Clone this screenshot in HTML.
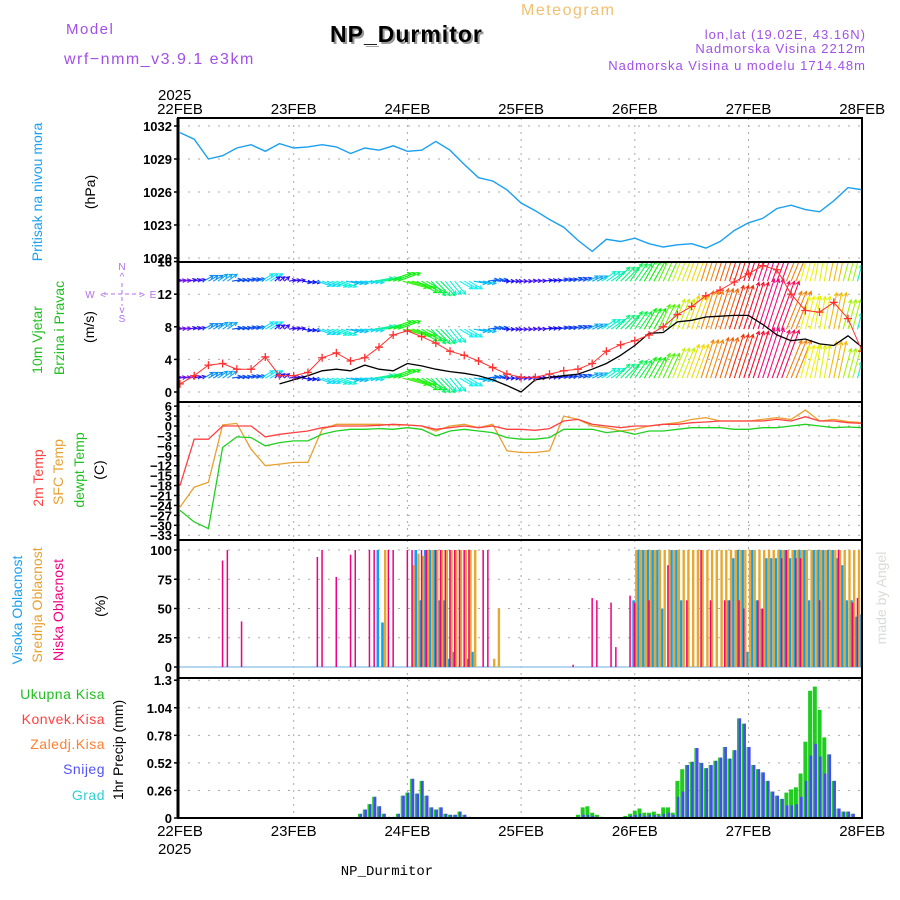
<!DOCTYPE html>
<html><head><meta charset="utf-8"><style>
html,body{margin:0;padding:0;background:#fff}
svg{display:block;font-family:"Liberation Sans","DejaVu Sans",sans-serif}
</style></head><body>
<svg id="chart" width="900" height="900" viewBox="0 0 900 900" xmlns="http://www.w3.org/2000/svg">
<defs>
<clipPath id="c1"><rect x="178" y="118" width="684" height="144"/></clipPath>
<clipPath id="c2"><rect x="178" y="262" width="684" height="140"/></clipPath>
<clipPath id="c3"><rect x="178" y="402" width="684" height="138"/></clipPath>
<clipPath id="c4"><rect x="178" y="540" width="684" height="138"/></clipPath>
<clipPath id="c5"><rect x="178" y="678" width="684" height="140"/></clipPath>
</defs>
<text x="66" y="34" font-size="15" fill="#a050e8" letter-spacing="1.5">Model</text>
<text x="64" y="64" font-size="16" fill="#a050e8" letter-spacing="1.5">wrf−nmm_v3.9.1 e3km</text>
<text x="521" y="15" font-size="16" fill="#f0c070" letter-spacing="1.5">Meteogram</text>
<text x="332" y="44" font-size="23" font-weight="bold" fill="#999" letter-spacing="1">NP_Durmitor</text>
<text x="330" y="42" font-size="23" font-weight="bold" fill="#000" letter-spacing="1">NP_Durmitor</text>
<text x="866" y="39" font-size="13" fill="#a050e8" text-anchor="end" letter-spacing="1">lon,lat (19.02E, 43.16N)</text>
<text x="866" y="53" font-size="13" fill="#a050e8" text-anchor="end" letter-spacing="1">Nadmorska Visina 2212m</text>
<text x="866" y="70" font-size="13" fill="#a050e8" text-anchor="end" letter-spacing="1">Nadmorska Visina u modelu 1714.48m</text>

<g>
<text transform="translate(42,192) rotate(-90)" font-size="14" fill="#1aa0f0" text-anchor="middle">Pritisak na nivou mora</text>
<text transform="translate(95,192) rotate(-90)" font-size="14" fill="#000" text-anchor="middle">(hPa)</text>
</g>
<g>
<text transform="translate(42,340) rotate(-90)" font-size="14" fill="#20c020" text-anchor="middle">10m Vjetar</text>
<text transform="translate(64,328) rotate(-90)" font-size="14" fill="#20c020" text-anchor="middle">Brzina i Pravac</text>
<text transform="translate(94,327) rotate(-90)" font-size="14" fill="#000" text-anchor="middle">(m/s)</text>
<g fill="#b070e8" font-size="10" text-anchor="middle">
<text x="122" y="270">N</text><text x="122" y="280">^</text><text x="122" y="322">S</text><text x="122" y="313">v</text>
<text x="90" y="298">W</text><text x="153" y="298">E</text>
<line x1="104" y1="294" x2="141" y2="294" stroke="#b070e8" stroke-dasharray="4,3"/>
<line x1="122" y1="283" x2="122" y2="306" stroke="#b070e8" stroke-dasharray="4,3"/>
<text x="103" y="298">&lt;</text><text x="142" y="298">&gt;</text>
</g>
</g>
<g>
<text transform="translate(43,478) rotate(-90)" font-size="14" fill="#ff4040" text-anchor="middle">2m Temp</text>
<text transform="translate(63,472) rotate(-90)" font-size="14" fill="#e8a030" text-anchor="middle">SFC Temp</text>
<text transform="translate(84,470) rotate(-90)" font-size="14" fill="#20c020" text-anchor="middle">dewpt Temp</text>
<text transform="translate(104,470) rotate(-90)" font-size="14" fill="#000" text-anchor="middle">(C)</text>
</g>
<g>
<text transform="translate(22,610) rotate(-90)" font-size="14" fill="#1aa0f0" text-anchor="middle">Visoka Oblacnost</text>
<text transform="translate(42,605) rotate(-90)" font-size="14" fill="#e8a030" text-anchor="middle">Srednja Oblacnost</text>
<text transform="translate(63,610) rotate(-90)" font-size="14" fill="#f00080" text-anchor="middle">Niska Oblacnost</text>
<text transform="translate(105,606) rotate(-90)" font-size="14" fill="#000" text-anchor="middle">(%)</text>
</g>
<g font-size="14" text-anchor="end" letter-spacing="0.5">
<text x="105" y="699" fill="#20c020">Ukupna Kisa</text>
<text x="105" y="724" fill="#ff4040">Konvek.Kisa</text>
<text x="105" y="749" fill="#ff8030">Zaledj.Kisa</text>
<text x="105" y="774" fill="#5050ff">Snijeg</text>
<text x="105" y="800" fill="#30d0d0">Grad</text>
<text transform="translate(123,750) rotate(-90)" font-size="14" fill="#000" text-anchor="middle" letter-spacing="0">1hr Precip (mm)</text>
</g>
<text transform="translate(886,598) rotate(-90)" font-size="14" fill="#d8dcd8" text-anchor="middle">made by Angel</text>
<text x="387" y="875" font-size="14" fill="#000" text-anchor="middle" font-family="Liberation Mono, monospace">NP_Durmitor</text>
<text x="158" y="100" font-size="15" fill="#000">2025</text>
<text x="158" y="854" font-size="15" fill="#000">2025</text>
<g id="grid"></g>
<g id="marks"></g>
<g id="frames"></g>
</svg>
<script>
// ---- data ----
const dayLabels = ["22FEB","23FEB","24FEB","25FEB","26FEB","27FEB","28FEB"];
const pressureTicks = [1020,1023,1026,1029,1032];
const windTicks = [0,4,8,12,16];
const tempTicks = [6,3,0,-3,-6,-9,-12,-15,-18,-21,-24,-27,-30,-33];
const cloudTicks = [0,25,50,75,100];
const precipTicks = [0,0.26,0.52,0.78,1.04,1.3];
// 3-hourly series (49 values, 22FEB 00 .. 28FEB 00)
const pressure = [1031.4,1030.8,1029,1029.3,1030,1030.3,1029.7,1030.4,
 1030,1030.1,1030.3,1030.1,1029.5,1030,1029.8,1030.2,
 1029.7,1029.8,1030.6,1029.8,1028.5,1027.3,1027,1026.2,
 1025,1024.3,1023.5,1022.8,1021.6,1020.6,1021.7,1021.5,
 1021.8,1021.3,1021,1021.2,1021.3,1020.9,1021.5,1022.5,
 1023.2,1023.6,1024.5,1024.8,1024.4,1024.2,1025.2,1026.4,1026.2];
const windGust = [1.0,2.0,3.3,3.5,2.8,2.8,4.3,2.0,
 2.0,2.4,4.2,4.8,3.8,4.2,5.5,7.0,
 7.5,6.8,6.0,5.0,4.5,3.8,3.0,2.2,
 1.8,1.8,2.2,2.6,2.8,3.5,5.0,5.8,
 6.3,7.0,8.0,9.5,10.5,11.8,12.5,13.5,
 14.5,15.5,15.0,12.0,10.0,9.8,11.0,9.0,5.0];
const windSpeed = [null,null,null,null,null,null,null,1.0,
 1.5,2.0,2.6,2.8,2.6,3.3,2.8,2.6,
 3.5,3.2,2.8,2.5,2.3,2.0,1.5,0.8,
 0.0,1.5,1.8,2.0,2.2,2.8,3.5,4.5,
 5.7,7.2,7.3,8.6,8.8,9.2,9.3,9.4,
 9.4,8.3,7.0,6.3,6.5,5.9,5.7,6.9,5.5];
const windDir = [10,15,30,35,10,15,30,40,
 10,-10,-20,-20,-10,-5,10,20,
 -15,-30,-45,-50,-30,-10,10,0,
 0,5,10,15,20,25,35,45,
 55,60,65,68,70,72,72,72,
 72,72,70,68,75,80,78,75,75];
const temp2m = [-18,-4,-4,0,0,0,-3.3,-2.5,
 -2,-1.5,-0.5,0,0,0,0.2,0.5,
 0.3,0,-1,-0.5,0,-0.5,0,-1,
 -1,-1.3,-0.8,1.5,2,0.5,0,-0.5,
 0,0,0.5,0.5,1,1.2,1.5,1.5,
 1.5,1.5,2,1.5,2.8,1.5,1.5,1,0.8];
const tempSfc = [-24.5,-18.5,-17,0.3,0.8,-7,-12,-11.5,
 -11,-11,-1,0.5,0.5,0.5,0.5,0.3,
 0.3,0,-1.5,0,0.5,-0.5,0.5,-7.5,
 -8,-8,-7.5,3,2,0,-0.5,-1.5,
 -1,0,0.5,1,2,2.5,1.5,1.5,
 1.5,2,2.5,2,4.8,1.5,2,1.3,1];
const dewpoint = [-25.5,-29,-31,-6.5,-3.3,-3.5,-6,-5,
 -4.5,-4.5,-2.5,-1.5,-1,-1,-0.8,-1,
 -0.5,-1,-3,-1.5,-1,-1.5,-2,-3.5,
 -4,-4,-3.5,-1,-1,-1,-2,-1.5,
 -2.5,-1.5,-1.5,-1,-0.5,-0.5,-0.5,-1,
 -1,-0.5,-0.5,0,0.5,0,-0.5,-0.3,-0.5];
// hourly series (145 values)
const cloudHigh = [0,0,0,0,0,0,0,0,0,0,0,0,0,0,0,0,0,0,0,0,0,0,0,0,
 0,0,0,0,0,0,0,0,0,0,0,0,0,0,0,0,0,0,100,38,0,0,0,0,
 0,0,100,57,100,100,100,57,57,7,13,0,0,7,13,0,0,0,0,0,0,0,0,0,
 0,0,0,0,0,0,0,0,0,0,0,0,0,0,0,0,0,0,0,0,0,0,0,0,
 57,100,100,100,100,100,50,0,100,100,57,0,0,0,0,0,0,0,0,0,57,93,100,100,
 13,100,57,50,93,93,93,100,100,93,100,100,100,57,100,100,100,100,100,93,87,57,57,43,
 45];
const cloudMid = [0,0,0,0,0,0,0,0,0,0,0,0,0,0,0,0,0,0,0,0,0,0,0,0,
 0,0,0,0,0,0,0,0,0,0,0,0,0,0,0,0,0,0,0,100,0,0,0,0,
 0,87,97,95,100,100,100,100,100,100,100,100,100,100,100,0,0,0,7,50,0,0,0,0,
 0,0,0,0,0,0,0,0,0,0,0,0,0,0,0,0,0,0,0,0,0,0,0,0,
 100,100,100,100,100,100,100,100,100,100,100,100,100,100,100,100,100,100,100,100,100,100,100,100,
 100,100,100,100,100,100,100,100,100,100,100,100,100,100,100,100,100,100,100,100,100,100,100,100,
 100];
const cloudLow = [0,0,0,0,0,0,0,0,0,91,100,0,0,39,0,0,0,0,0,0,0,0,0,0,
 0,0,0,0,0,94,100,0,0,77,0,0,96,100,0,0,100,100,0,0,100,100,0,0,
 100,100,0,100,100,0,100,100,100,100,100,100,100,100,0,0,100,100,0,0,0,0,0,0,
 0,0,0,0,0,0,0,0,0,0,0,2,0,0,0,59,57,0,0,55,17,0,0,61,
 55,0,0,57,0,0,0,87,0,0,0,57,0,0,100,0,57,0,0,57,57,0,57,50,
 0,0,57,50,0,0,0,93,100,0,93,93,0,0,0,57,0,0,0,100,0,0,55,59,
 0];
const precipTotal = [0,0,0,0,0,0,0,0,0,0,0,0,0,0,0,0,0,0,0,0,0,0,0,0,
 0,0,0,0,0,0,0,0,0,0,0,0,0,0,.04,.08,.13,.2,.11,.04,.01,.01,.04,.21,
 .24,.37,.23,.35,.21,.1,.08,.1,.04,.03,.03,.06,.03,.01,0,0,0,0,0,0,0,0,
 0,0,0,0,0,0,0,0,0,0,0,0,0,0,.03,.1,.11,.05,.03,.01,0,0,0,0,
 .02,.04,.07,.09,.05,.05,.06,.04,.1,.1,.05,.35,.46,.5,.53,.66,.52,.47,.5,.54,.57,.67,.56,.64,
 .94,.89,.67,.5,.46,.43,.35,.25,.21,.18,.24,.27,.29,.42,.72,1.2,1.24,1.02,.76,.6,.35,.09,.06,.06,
 .04];
const precipSnow = [0,0,0,0,0,0,0,0,0,0,0,0,0,0,0,0,0,0,0,0,0,0,0,0,
 0,0,0,0,0,0,0,0,0,0,0,0,0,0,.04,.08,.13,.2,.11,.04,.01,.01,.04,.21,
 .24,.37,.23,.35,.21,.1,.08,.1,.04,.03,.03,.06,.03,.01,0,0,0,0,0,0,0,0,
 0,0,0,0,0,0,0,0,0,0,0,0,0,0,0,.03,.03,.02,.01,0,0,0,0,0,
 .01,.02,.03,.04,.02,.03,.03,.02,.04,.05,.03,.2,.25,.5,.53,.66,.52,.47,.5,.54,.57,.67,.56,.64,
 .94,.89,.67,.5,.46,.43,.35,.25,.21,.18,.12,.12,.13,.2,.35,.59,.7,.58,.42,.6,.35,.09,.06,.06,
 .04];

// ---- scales ----
const NS = "http://www.w3.org/2000/svg";
const X0 = 180, DAYPX = 113.7, LEFT = 178, RIGHT = 862;
const xDay = d => X0 + d * DAYPX;
const yP = v => 126 + (1032 - v) * 11;
const yW = v => 392 - v * 8.15;
const yT = v => 426 - v * 3.31;
const yC = v => 667 - v * 1.17;
const yR = v => 818 - v * 106;
const panels = [
 {top:118,bot:262,ticks:pressureTicks,y:yP,fmt:v=>v,clip:"c1",name:"pressure"},
 {top:262,bot:402,ticks:windTicks,y:yW,fmt:v=>v,clip:"c2",name:"wind"},
 {top:402,bot:540,ticks:tempTicks,y:yT,fmt:v=>v,clip:"c3",name:"temperature"},
 {top:540,bot:678,ticks:cloudTicks,y:yC,fmt:v=>v,clip:"c4",name:"cloud"},
 {top:678,bot:818,ticks:precipTicks,y:yR,fmt:v=>v,clip:"c5",name:"precip"}];
function el(tag, attrs, parent){const e=document.createElementNS(NS,tag);for(const k in attrs)e.setAttribute(k,attrs[k]);parent.appendChild(e);return e;}
const grid=document.getElementById("grid"), marks=document.getElementById("marks"), frames=document.getElementById("frames");

panels.forEach(p=>{
 for(let d=1; d<6; d++){
  const g=el("line",{x1:xDay(d),x2:xDay(d),y1:p.top,y2:p.bot,stroke:"#aaa","stroke-dasharray":"2,5"},grid);
  
  
 }
 p.ticks.forEach(v=>{
  const y=p.y(v);
  const gl=el("line",{x1:LEFT,x2:RIGHT,y1:y,y2:y,stroke:"#aaa","stroke-dasharray":"2,8"},grid);
  
  
  const tk=el("line",{x1:LEFT-4,x2:LEFT,y1:y,y2:y,stroke:"#000","stroke-width":1.5},frames);
  
  
  const t=el("text",{x:LEFT-6,y:y+5,"font-size":13,"font-weight":"bold","text-anchor":"end",fill:"#000"},frames);
  t.textContent=String(p.fmt(v)).replace("-","−");
  
  
 });
 const r=el("rect",{x:LEFT,y:p.top,width:RIGHT-LEFT,height:p.bot-p.top,fill:"none",stroke:"#000","stroke-width":2},frames);
 
 
});
const la=el("line",{x1:LEFT,x2:LEFT,y1:118,y2:818,stroke:"#000","stroke-width":3},frames);


dayLabels.forEach((lab,i)=>{
 [114,836].forEach(yy=>{
  const t=el("text",{x:xDay(i),y:yy,"font-size":15,"text-anchor":"middle",fill:"#000"},frames);
  t.textContent=lab;
  
  
 });
});

function line(vals, xf, yf, color, clip, name, w){
 let d="", pen=false;
 vals.forEach((v,i)=>{ if(v===null){pen=false;return;} d+=(pen?"L":"M")+xf(i).toFixed(1)+","+yf(v).toFixed(1); pen=true; });
 const p=el("path",{d:d,fill:"none",stroke:color,"stroke-width":w||1.3,"clip-path":"url(#"+clip+")"},marks);
 
 
 return p;
}
const x3 = i => xDay(i*0.125);
const xH = i => xDay(i/24);

line(pressure,x3,yP,"#1aa0f0","c1","pressure-line",1.4);

function speedColor(s){
 const stops=[[0,280],[2,250],[3.5,200],[5,170],[7,120],[10,60],[12,30],[14,0],[15.5,-30],[17,-40]];
 let h=stops[stops.length-1][1];
 for(let k=0;k<stops.length-1;k++){ if(s<=stops[k+1][0]){const f=(s-stops[k][0])/(stops[k+1][0]-stops[k][0]);h=stops[k][1]+f*(stops[k+1][1]-stops[k][1]);break;} }
 return "hsl("+((h+360)%360).toFixed(0)+",90%,50%)";
}
const rows=[1.7,7.7,13.6];
const wg=el("g",{"clip-path":"url(#c2)"},marks);


rows.forEach(base=>{
 windGust.forEach((s,i)=>{
  const a=windDir[i]*Math.PI/180, len=Math.max(6,s*3.4);
  const dx=len*Math.cos(a), dy=-len*Math.sin(a);
  [-4.74,0,4.74].forEach(off=>{
   const x=x3(i)+off, y=yW(base), tx=x+dx, ty=y+dy;
   const col=speedColor(s);
   const ang=Math.atan2(dy,dx);
   const h1x=tx-4*Math.cos(ang-0.5), h1y=ty-4*Math.sin(ang-0.5);
   const h2x=tx-4*Math.cos(ang+0.5), h2y=ty-4*Math.sin(ang+0.5);
   const ar=el("path",{d:`M${x.toFixed(1)},${y.toFixed(1)}L${tx.toFixed(1)},${ty.toFixed(1)}M${h1x.toFixed(1)},${h1y.toFixed(1)}L${tx.toFixed(1)},${ty.toFixed(1)}L${h2x.toFixed(1)},${h2y.toFixed(1)}`,stroke:col,"stroke-width":1.1,fill:"none"},wg);
   
   
  });
 });
});
line(windSpeed,x3,yW,"#000","c2","wind-speed-line",1.3);
line(windGust,x3,yW,"#ff3030","c2","wind-gust-line",1);
windGust.forEach((v,i)=>{
 const x=x3(i), y=yW(v);
 const m=el("path",{d:`M${x-4},${y}h8M${x},${y-4}v8`,stroke:"#ff3030","stroke-width":1.3,"clip-path":"url(#c2)"},marks);
 
 
});

line(tempSfc,x3,yT,"#e8a030","c3","sfc-temp-line",1.3);
line(dewpoint,x3,yT,"#20d020","c3","dewpoint-line",1.3);
line(temp2m,x3,yT,"#ff4040","c3","temp-2m-line",1.3);

const bl=el("line",{x1:LEFT,x2:RIGHT,y1:yC(0),y2:yC(0),stroke:"#9cc8e8","stroke-width":1.5},marks);


function bars(vals, off, w, color, yf, name, clip){
 vals.forEach((v,i)=>{
  if(!v) return;
  const y=yf(v), y0=yf(0);
  const b=el("rect",{x:(xH(i)+off).toFixed(1),y:y.toFixed(1),width:w,height:(y0-y).toFixed(1),fill:color,"clip-path":"url(#"+clip+")"},marks);
  
  
 });
}
bars(cloudHigh,-2.5,2.6,"#10a0f0",yC,"high-cloud-bar","c4");
bars(cloudMid,0.3,2.4,"#e8a830",yC,"mid-cloud-bar","c4");
bars(cloudLow,-0.8,1.5,"#f00080",yC,"low-cloud-bar","c4");

bars(precipTotal,-2,4,"#20cc20",yR,"total-precip-bar","c5");
bars(precipSnow,-0.5,2.6,"#4848ff",yR,"snow-precip-bar","c5");
</script>
</body></html>
